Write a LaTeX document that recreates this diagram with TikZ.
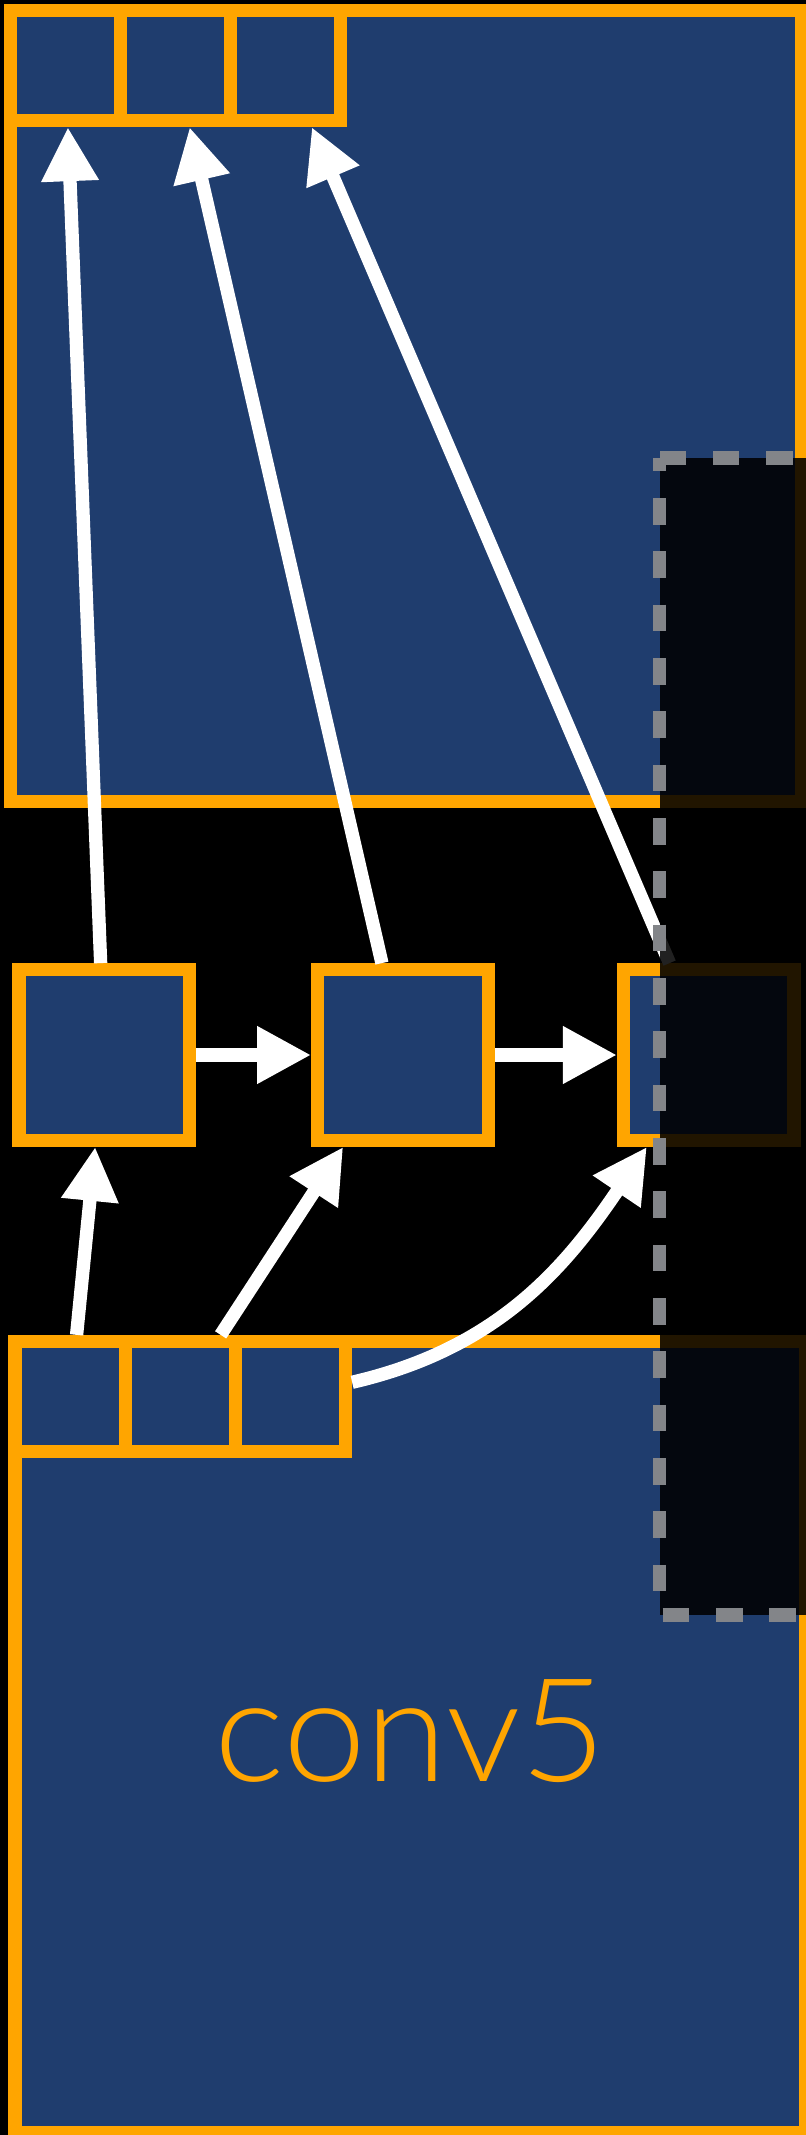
\documentclass[tikz,border=0pt]{standalone}
\usepackage{fontspec}
\usepackage{xcolor}
\usepackage{tikz}
\usetikzlibrary{arrows.meta,positioning}
\newfontfamily\mapfont{Lato}[UprightFont=* Light, FakeStretch=1.03]
\definecolor{featblue}{RGB}{31,61,110}
\definecolor{edge}{RGB}{255,165,0}
\definecolor{cropgray}{RGB}{131,133,137}

\begin{document}
\begin{tikzpicture}[x=0.1mm, y=0.1mm,
  map/.style={draw=edge, fill=featblue, line width=1.33mm, inner sep=0pt, minimum size=79.1mm},
  cell/.style={draw=edge, fill=featblue, line width=1.33mm, inner sep=0pt, minimum size=11mm},
  unit/.style={draw=edge, fill=featblue, line width=1.33mm, inner sep=0pt, minimum size=17.05mm},
  arr/.style={-{Triangle[length=5.4mm, width=5.4mm]}, white, line width=1.33mm}]
  \useasboundingbox (0,0) rectangle (806,-2135);
  \fill[black] (0,0) rectangle (806,-2135);
  \clip (0,0) rectangle (806,-2135);

  % upper map with its three cells
  \node[map] (upper) at (406,-406) {};
  \node[cell] (t1) at (65.5,-65.5) {};
  \node[cell] (t2) at (175.5,-65.5) {};
  \node[cell] (t3) at (285.5,-65.5) {};

  % middle row
  \node[unit] (m1) at (104.25,-1055) {};
  \node[unit, right=11.5mm of m1] (m2) {};
  \node[unit, right=12.2mm of m2] (m3) {};

  % conv5 map with its three cells
  \node[map, text=edge, text depth=1.2mm, font=\mapfont\fontsize{41}{48}\selectfont] (conv5) at (410.5,-1737) {conv5};
  \node[cell] (b1) at (70.5,-1396.5) {};
  \node[cell] (b2) at (180.5,-1396.5) {};
  \node[cell] (b3) at (290.5,-1396.5) {};

  \draw[arr] (m1) -- (m2);
  \draw[arr] (m2) -- (m3);
  \draw[arr] (m1) -- (t1);
  \draw[arr] (m2) -- (t2);
  \draw[arr] (m3) -- (t3);
  \draw[arr] (b1) -- (m1);
  \draw[arr] (b2) -- (m2);
  \draw[arr] (b3) to[out=13, in=-124] (m3);

  % shaded crop
  \draw[cropgray, line width=1.33mm, dash pattern=on 2.667mm off 2.667mm, dash phase=1.333mm,
    fill=black, fill opacity=0.87]
    (659.5,-458) -- (659.5,-1615) -- (842.5,-1615) -- (842.5,-458) -- cycle;
\end{tikzpicture}
\end{document}
